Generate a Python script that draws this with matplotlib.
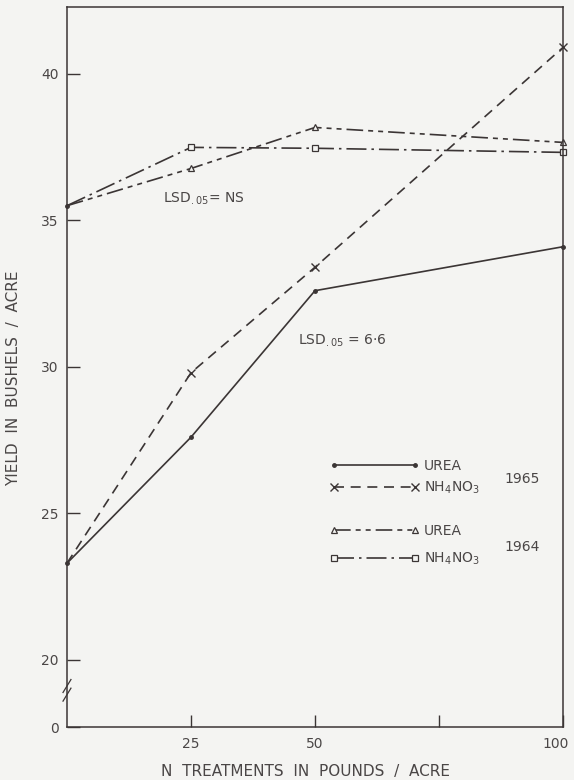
import matplotlib
matplotlib.use("Agg")
import matplotlib.pyplot as plt
import matplotlib.transforms as mtransforms
import numpy as np
from matplotlib.lines import Line2D

# N treatments (pounds / acre) and yields (bushels / acre)
n_rate = [0, 25, 50, 100]
urea_1965 = [23.3, 27.6, 32.6, 34.1]
nh4no3_1965 = [23.3, 29.8, 33.4, 40.9]
urea_1964 = [35.5, 36.77, 38.17, 37.66]
nh4no3_1964 = [35.5, 37.49, 37.46, 37.32]

xticks = [25, 50, 75, 100]
xticklabels = ['25', '50', '', '100']
yticks = [0, 20, 25, 30, 35, 40]
yticklabels = ['0', '20', '25', '30', '35', '40']

ink = '#3b3535'
txt = '#4a4646'
bg = '#f4f4f2'

plt.rcParams['font.family'] = ['DejaVu Sans']

fig = plt.figure(figsize=(5.74, 7.80), dpi=100, facecolor=bg)
ax = fig.add_axes([0.1167, 0.0679, 0.8641, 0.9231], facecolor=bg)

# broken y axis: 0 sits just below 20
brk = 17.71
def fwd(v):
    return np.interp(v, [0, 20, 100], [brk, 20, 100])
def inv(v):
    return np.interp(v, [brk, 20, 100], [0, 20, 100])
ax.set_yscale('function', functions=(fwd, inv))

styles = {
    'u65': dict(ls='-', marker='o', ms=2.5, mfc=ink),
    'n65': dict(ls=(0, (6, 4)), marker='x', ms=6, mew=1.0),
    'u64': dict(ls=(0, (10, 3, 3, 3, 3, 3)), marker='^', ms=5, mfc=bg, mew=0.9),
    'n64': dict(ls=(0, (12, 3, 1.5, 3)), marker='s', ms=4, mfc=bg, mew=0.9),
}

for key, ys in [('u65', urea_1965), ('n65', nh4no3_1965),
                ('u64', urea_1964), ('n64', nh4no3_1964)]:
    ax.plot(n_rate, ys, color=ink, lw=1.2, markevery=[1, 2, 3],
            clip_on=False, **styles[key])

# shared starting points at zero N
ax.plot([n_rate[0]] * 2, [urea_1965[0], urea_1964[0]], 'o', color=ink,
        ms=2.5, ls='none', clip_on=False)

ax.set_xlim(0, 100)
ax.set_ylim(0, 42.28)
ax.set_xticks(xticks)
ax.set_xticklabels(xticklabels)
ax.set_yticks(yticks)
ax.set_yticklabels(yticklabels)
ax.tick_params(direction='in', length=9, width=1, color=ink, labelcolor=txt,
               labelsize=10)
ax.tick_params(axis='x', pad=7)
ax.tick_params(axis='y', pad=6)
for s in ax.spines.values():
    s.set_color(ink)
    s.set_linewidth(1.1)

# nudge the "100" label so it stays inside the figure
shift = mtransforms.ScaledTranslation(-5 / 72, 0, fig.dpi_scale_trans)
lab100 = ax.get_xticklabels()[-1]
lab100.set_transform(lab100.get_transform() + shift)

# axis break marks
for dy in (0.0, 0.012):
    ax.plot([-0.008, 0.008], [0.036 + dy, 0.054 + dy], transform=ax.transAxes,
            color=ink, lw=0.9, clip_on=False)

ax.set_xlabel('N  TREATMENTS  IN  POUNDS  /  ACRE', fontsize=11, color=txt)
ax.xaxis.set_label_coords(0.48, -0.052)
ax.set_ylabel('YIELD  IN  BUSHELS  /  ACRE', fontsize=11, color=txt)
ax.yaxis.set_label_coords(-0.092, 0.485)

ax.text(19.3, 35.6, r'LSD$_{.05}$= NS', fontsize=10, color=txt)
ax.text(46.5, 30.75, r'LSD$_{.05}$ = 6$\cdot$6', fontsize=10, color=txt)

def handle(key):
    return Line2D([], [], color=ink, lw=1.2, **styles[key])

leg1 = ax.legend([handle('u65'), handle('n65')], ['UREA', r'NH$_4$NO$_3$'],
                 loc='center left', bbox_to_anchor=(0.53, 0.347),
                 frameon=False, numpoints=2, handlelength=6.4,
                 handletextpad=0.36, labelspacing=0.5, borderpad=0,
                 borderaxespad=0, fontsize=10, labelcolor=txt)
ax.add_artist(leg1)
ax.legend([handle('u64'), handle('n64')], ['UREA', r'NH$_4$NO$_3$'],
          loc='center left', bbox_to_anchor=(0.53, 0.252),
          frameon=False, numpoints=2, handlelength=6.4,
          handletextpad=0.36, labelspacing=0.9, borderpad=0,
          borderaxespad=0, fontsize=10, labelcolor=txt)

ax.text(0.881, 0.344, '1965', transform=ax.transAxes, fontsize=10,
        color=txt, va='center')
ax.text(0.881, 0.25, '1964', transform=ax.transAxes, fontsize=10,
        color=txt, va='center')

fig.savefig('out.png', dpi=100, facecolor=bg)
